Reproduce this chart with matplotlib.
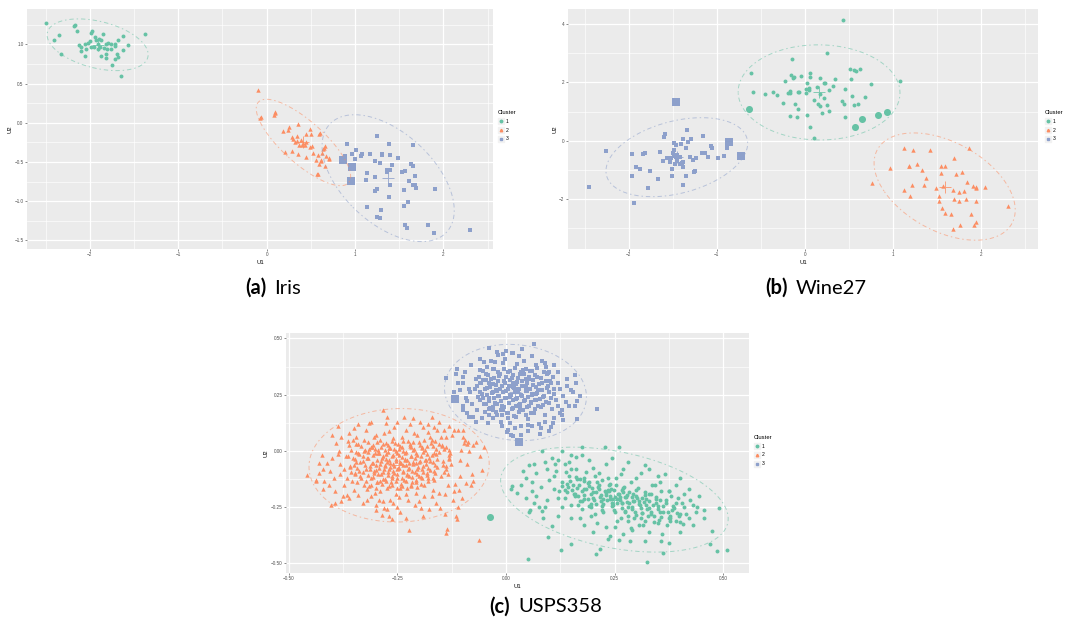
import numpy as np
import matplotlib.pyplot as plt
from matplotlib.lines import Line2D
from matplotlib.legend_handler import HandlerTuple

plt.rcParams['font.family'] = ['Liberation Sans', 'DejaVu Sans']

COLORS = {1: '#66C2A5', 2: '#FC8D62', 3: '#8DA0CB'}
MARKERS = {1: 'o', 2: '^', 3: 's'}
SIZES = {1: 8, 2: 10, 3: 8}
MINUS = '\u2212'

# ---------------- Iris ----------------
iris_c1 = [(-2.49, 1.27), (-2.18, 1.23), (-2.17, 1.25), (-2.15, 1.17), (-2.35, 1.12), (-2.41, 1.05),
           (-2.32, 0.87), (-1.99, 1.14), (-1.98, 1.17), (-1.85, 1.13), (-1.37, 1.13), (-1.62, 1.10),
           (-1.68, 1.06), (-1.57, 0.99), (-1.62, 0.93), (-1.65, 0.59), (-1.75, 0.74), (-1.71, 0.81),
           (-1.69, 0.88), (-1.68, 0.84), (-1.76, 0.94), (-1.72, 0.98), (-1.72, 1.01), (-1.76, 1.01),
           (-1.82, 1.00), (-1.81, 0.94), (-1.82, 0.88), (-1.82, 0.83), (-1.87, 0.85), (-1.87, 1.05),
           (-1.90, 1.07), (-1.93, 1.05), (-1.91, 1.01), (-1.95, 0.96), (-1.91, 0.94), (-1.99, 0.97),
           (-2.02, 1.02), (-2.00, 1.04), (-2.05, 1.00), (-2.04, 0.94), (-2.05, 0.85), (-2.10, 0.92),
           (-2.12, 0.99), (-2.10, 0.97), (-1.89, 0.96), (-1.84, 0.95), (-1.94, 1.09), (-1.79, 1.02)]
iris_c2 = [(-0.10, 0.42), (-0.06, 0.07), (-0.07, 0.06), (0.09, 0.14), (0.10, 0.12), (0.08, 0.10),
           (0.18, -0.11), (0.24, -0.09), (0.25, -0.06), (0.35, -0.01), (0.29, -0.18), (0.30, -0.21),
           (0.34, -0.17), (0.32, -0.24), (0.34, -0.23), (0.37, -0.28), (0.39, -0.22), (0.40, -0.29),
           (0.43, -0.29), (0.41, -0.26), (0.44, -0.25), (0.45, -0.14), (0.49, -0.08), (0.50, -0.14),
           (0.60, -0.13), (0.59, -0.14), (0.49, -0.31), (0.51, -0.30), (0.21, -0.37), (0.29, -0.36),
           (0.36, -0.40), (0.44, -0.44), (0.53, -0.39), (0.58, -0.41), (0.64, -0.33), (0.65, -0.32),
           (0.63, -0.38), (0.66, -0.30), (0.67, -0.43), (0.70, -0.45), (0.71, -0.46), (0.56, -0.48),
           (0.61, -0.49), (0.62, -0.48), (0.59, -0.52), (0.66, -0.55), (0.57, -0.66), (0.58, -0.65)]
iris_c3 = [(1.25, -0.17), (0.91, -0.27), (1.01, -0.35), (1.38, -0.27), (1.66, -0.28), (0.97, -0.40),
           (0.89, -0.43), (1.08, -0.40), (1.07, -0.42), (1.17, -0.40), (1.30, -0.40), (1.31, -0.41),
           (1.40, -0.41), (1.48, -0.45), (1.00, -0.46), (0.86, -0.48), (1.22, -0.49), (1.28, -0.51),
           (1.42, -0.54), (1.63, -0.53), (1.66, -0.55), (0.97, -0.57), (1.36, -0.60), (1.39, -0.60),
           (1.36, -0.63), (1.53, -0.63), (1.57, -0.62), (1.14, -0.64), (1.68, -0.68), (1.22, -0.69),
           (1.12, -0.73), (0.95, -0.74), (1.61, -0.74), (1.39, -0.79), (1.65, -0.79), (1.68, -0.79),
           (1.69, -0.83), (1.25, -0.85), (1.22, -0.87), (1.55, -0.86), (1.90, -0.85), (1.38, -0.95),
           (1.60, -1.01), (1.13, -1.08), (1.55, -1.06), (1.29, -1.11), (1.25, -1.20), (1.28, -1.22),
           (1.57, -1.30), (1.59, -1.34), (1.83, -1.30), (1.89, -1.41), (2.30, -1.37)]
iris_big = [(0.86, -0.48, 3), (0.97, -0.57, 3), (0.95, -0.74, 3)]

# ---------------- Wine27 ----------------
wine_c1 = [(-0.61, 2.31), (-0.59, 1.66), (-0.63, 1.08), (-0.45, 1.61), (-0.36, 1.68), (-0.32, 1.58),
           (-0.25, 1.30), (-0.22, 2.06), (-0.17, 1.63), (-0.19, 1.63), (-0.17, 1.70), (-0.16, 2.26),
           (-0.15, 2.80), (-0.13, 2.16), (-0.12, 2.19), (-0.11, 1.27), (-0.17, 0.85), (-0.09, 0.83),
           (-0.08, 1.66), (-0.06, 1.66), (-0.08, 1.10), (0.44, 4.14), (0.25, 3.01), (-0.04, 2.23),
           (0.06, 2.32), (0.06, 2.19), (0.02, 1.98), (0.01, 1.79), (0.01, 1.63), (0.05, 1.82),
           (0.05, 1.75), (0.14, 1.83), (0.17, 2.15), (0.22, 1.97), (0.23, 1.99), (0.28, 1.75),
           (0.32, 1.88), (0.34, 2.13), (0.17, 1.61), (0.22, 1.47), (0.11, 1.40), (0.15, 1.25),
           (0.17, 1.18), (0.25, 1.24), (0.28, 1.03), (0.20, 0.94), (0.03, 0.90), (0.06, 0.49),
           (0.11, 0.10), (0.42, 1.37), (0.45, 1.27), (0.46, 1.77), (0.46, 0.81), (0.51, 2.45),
           (0.56, 2.42), (0.58, 2.38), (0.63, 2.47), (0.53, 2.13), (0.54, 1.54), (0.56, 1.22),
           (0.60, 1.25), (0.57, 0.47), (0.65, 0.75), (0.69, 1.50), (0.75, 1.95), (0.83, 0.89),
           (0.94, 1.00), (1.08, 2.05)]
wine_c2 = [(1.13, -0.23), (1.23, -0.32), (1.42, -0.30), (1.87, -0.25), (0.97, -0.92), (0.76, -1.43),
           (1.18, -0.85), (1.19, -0.87), (1.28, -0.80), (1.33, -1.01), (1.38, -1.27), (1.36, -1.51),
           (1.22, -1.50), (1.13, -1.67), (1.20, -1.88), (1.55, -0.88), (1.59, -0.88), (1.55, -1.09),
           (1.69, -0.60), (1.72, -1.13), (1.79, -1.08), (1.84, -1.42), (1.91, -1.55), (1.94, -1.57),
           (1.94, -1.61), (2.05, -1.57), (1.49, -1.61), (1.52, -1.89), (1.53, -2.07), (1.56, -2.32),
           (1.59, -2.47), (1.66, -2.50), (1.68, -1.67), (1.69, -1.99), (1.75, -1.74), (1.75, -2.07),
           (1.81, -1.72), (1.83, -1.98), (1.95, -2.07), (1.89, -2.50), (1.95, -2.77), (1.92, -2.89),
           (1.76, -2.89), (1.68, -3.04), (2.31, -2.24), (1.57, -1.55)]
wine_c3 = [(-2.45, -1.58), (-2.26, -0.35), (-1.96, -0.45), (-1.96, -1.20), (-1.94, -2.13), (-1.92, -0.90),
           (-1.87, -0.97), (-1.84, -0.45), (-1.82, -0.42), (-1.78, -1.61), (-1.76, -1.03), (-1.67, -1.31),
           (-1.65, -0.39), (-1.61, -0.69), (-1.60, 0.14), (-1.59, 0.23), (-1.56, -0.59), (-1.53, -0.73),
           (-1.52, -0.59), (-1.51, -0.97), (-1.51, -1.20), (-1.50, -0.42), (-1.49, -0.08), (-1.48, -0.32),
           (-1.48, -0.48), (-1.46, -0.55), (-1.45, -0.50), (-1.47, -0.52), (-1.46, -0.15), (-1.45, -0.69),
           (-1.47, -0.80), (-1.46, 1.32), (-1.42, -0.56), (-1.41, -0.11), (-1.42, -0.80), (-1.40, -0.77),
           (-1.38, -0.73), (-1.38, -0.91), (-1.38, 0.06), (-1.38, -1.51), (-1.35, -0.25), (-1.35, -1.20),
           (-1.34, 0.37), (-1.33, -0.03), (-1.30, -0.56), (-1.29, 0.06), (-1.27, -0.66), (-1.26, -1.07),
           (-1.25, -1.03), (-1.24, -0.59), (-1.17, -0.42), (-1.16, 0.16), (-1.13, -0.42), (-1.10, -0.56),
           (-1.06, -0.18), (-1.05, -0.25), (-0.99, -0.59), (-0.92, -0.52), (-0.88, -0.25), (-0.86, -0.04),
           (-0.72, -0.52)]
wine_big = [(-0.63, 1.08, 1), (0.57, 0.47, 1), (0.65, 0.75, 1), (0.83, 0.89, 1), (0.94, 1.00, 1),
            (-1.46, 1.32, 3), (-0.86, -0.04, 3), (-0.72, -0.52, 3)]

# ---------------- USPS358 ----------------
usps_c1 = [(0.083, 0.001), (0.174, 0.016), (0.227, 0.016), (0.260, 0.016), (0.128, 0.001), (0.160, -0.028),
           (0.053, -0.062), (0.013, -0.158), (0.011, -0.170), (0.025, -0.187), (0.046, -0.209), (0.065, -0.231),
           (0.052, -0.273), (0.056, -0.262), (0.082, -0.268), (0.105, -0.335), (0.097, -0.382), (0.050, -0.482),
           (0.126, -0.441), (0.149, -0.416), (0.208, -0.457), (0.216, -0.435), (0.235, -0.391), (0.261, -0.397),
           (0.286, -0.401), (0.325, -0.493), (0.357, -0.401), (0.361, -0.456), (0.375, -0.408), (0.407, -0.327),
           (0.384, -0.246), (0.405, -0.231), (0.424, -0.220), (0.438, -0.273), (0.456, -0.261), (0.491, -0.255),
           (0.474, -0.355), (0.469, -0.416), (0.486, -0.446), (0.509, -0.441), (0.397, -0.291), (0.375, -0.177),
           (0.365, -0.102), (0.319, -0.062), (0.342, -0.150), (0.288, -0.342), (-0.037, -0.295),
           (0.100, -0.130), (0.110, -0.170), (0.115, -0.090), (0.120, -0.210), (0.128, -0.140), (0.135, -0.060),
           (0.140, -0.185), (0.145, -0.110), (0.150, -0.240), (0.155, -0.150), (0.160, -0.080), (0.165, -0.200),
           (0.170, -0.125), (0.175, -0.260), (0.180, -0.170), (0.184, -0.095), (0.188, -0.215), (0.192, -0.140),
           (0.196, -0.290), (0.200, -0.185), (0.204, -0.110), (0.208, -0.235), (0.212, -0.160), (0.216, -0.205),
           (0.220, -0.130), (0.224, -0.270), (0.228, -0.180), (0.232, -0.220), (0.236, -0.150), (0.240, -0.200),
           (0.244, -0.245), (0.248, -0.175), (0.252, -0.120), (0.256, -0.215), (0.260, -0.190), (0.264, -0.300),
           (0.268, -0.230), (0.272, -0.160), (0.276, -0.205), (0.280, -0.250), (0.284, -0.185), (0.288, -0.140),
           (0.292, -0.225), (0.296, -0.270), (0.300, -0.200), (0.304, -0.165), (0.308, -0.240), (0.312, -0.210),
           (0.316, -0.330), (0.320, -0.185), (0.325, -0.260), (0.330, -0.225), (0.335, -0.150), (0.340, -0.290),
           (0.345, -0.205), (0.350, -0.245), (0.356, -0.180), (0.362, -0.270), (0.368, -0.220), (0.374, -0.300),
           (0.380, -0.200), (0.386, -0.255), (0.392, -0.230), (0.400, -0.280), (0.410, -0.250), (0.420, -0.300),
           (0.070, -0.100), (0.080, -0.160), (0.090, -0.050), (0.060, -0.140), (0.095, -0.220), (0.105, -0.030),
           (0.130, -0.250), (0.150, -0.020), (0.170, -0.300), (0.190, -0.040), (0.210, -0.320), (0.230, -0.060),
           (0.250, -0.340), (0.270, -0.080), (0.290, -0.350), (0.310, -0.100), (0.330, -0.360), (0.350, -0.110),
           (0.370, -0.330), (0.390, -0.150), (0.410, -0.190), (0.430, -0.240), (0.230, -0.195), (0.245, -0.215),
           (0.262, -0.205), (0.278, -0.228), (0.255, -0.230), (0.238, -0.178), (0.270, -0.185), (0.290, -0.205),
           (0.305, -0.222), (0.322, -0.240), (0.218, -0.225), (0.198, -0.165), (0.180, -0.135), (0.162, -0.115),
           (0.142, -0.160), (0.122, -0.180), (0.112, -0.060), (0.138, -0.095), (0.158, -0.190), (0.176, -0.225),
           (0.196, -0.250), (0.214, -0.100), (0.234, -0.120), (0.254, -0.150), (0.274, -0.270), (0.294, -0.300),
           (0.314, -0.275), (0.334, -0.190), (0.354, -0.220), (0.374, -0.180), (0.396, -0.210), (0.060, -0.180),
           (0.045, -0.120), (0.075, -0.250), (0.085, -0.300), (0.200, -0.360), (0.240, -0.380), (0.280, -0.310),
           (0.320, -0.310),
           (0.130, -0.158), (0.152, -0.173), (0.174, -0.177), (0.196, -0.193), (0.218, -0.197), (0.240, -0.213),
           (0.262, -0.217), (0.284, -0.233), (0.306, -0.237), (0.328, -0.253), (0.350, -0.257), (0.372, -0.272),
           (0.394, -0.276), (0.141, -0.148), (0.163, -0.163), (0.185, -0.168), (0.207, -0.183), (0.229, -0.187),
           (0.251, -0.203), (0.273, -0.207), (0.295, -0.223), (0.317, -0.227), (0.339, -0.242), (0.361, -0.246),
           (0.383, -0.262), (0.135, -0.176), (0.157, -0.191), (0.179, -0.196), (0.201, -0.210), (0.223, -0.215),
           (0.245, -0.230), (0.267, -0.234), (0.289, -0.250), (0.311, -0.254), (0.333, -0.270), (0.355, -0.274),
           (0.377, -0.290), (0.147, -0.136), (0.169, -0.151), (0.191, -0.156), (0.213, -0.171), (0.235, -0.175),
           (0.257, -0.191), (0.279, -0.195), (0.301, -0.211), (0.323, -0.214), (0.345, -0.230), (0.367, -0.234),
           (0.158, -0.200), (0.180, -0.216), (0.202, -0.220), (0.224, -0.236), (0.246, -0.240), (0.268, -0.256),
           (0.290, -0.260), (0.312, -0.275), (0.334, -0.279), (0.356, -0.295), (0.378, -0.299), (0.400, -0.315),
           (0.163, -0.127), (0.189, -0.145), (0.215, -0.151), (0.241, -0.169), (0.267, -0.174), (0.293, -0.192),
           (0.319, -0.198), (0.345, -0.215), (0.170, -0.221), (0.196, -0.238), (0.222, -0.244), (0.248, -0.262),
           (0.274, -0.267), (0.300, -0.285), (0.326, -0.291), (0.352, -0.309), (0.378, -0.314), (0.180, -0.120),
           (0.210, -0.140), (0.240, -0.147), (0.270, -0.167), (0.300, -0.174), (0.330, -0.194), (0.190, -0.245),
           (0.220, -0.264), (0.250, -0.272), (0.280, -0.291), (0.310, -0.299), (0.340, -0.318),
           (0.040, -0.090), (0.065, -0.060), (0.095, -0.080), (0.120, -0.040), (0.145, -0.050), (0.175, -0.020),
           (0.200, -0.075), (0.245, -0.030), (0.280, -0.050), (0.300, -0.120), (0.330, -0.080), (0.355, -0.140),
           (0.400, -0.120), (0.420, -0.170), (0.445, -0.200), (0.455, -0.300), (0.430, -0.330), (0.400, -0.360),
           (0.360, -0.370), (0.320, -0.400), (0.270, -0.370), (0.230, -0.340), (0.180, -0.330), (0.150, -0.300),
           (0.120, -0.290), (0.090, -0.250), (0.070, -0.200), (0.035, -0.150), (0.110, -0.110), (0.135, -0.210),
           (0.165, -0.240), (0.205, -0.280), (0.255, -0.310), (0.305, -0.330), (0.350, -0.320), (0.390, -0.310),
           (0.415, -0.280), (0.440, -0.250), (0.150, -0.080), (0.265, -0.105)]
usps_c2 = [(-0.457, -0.109), (-0.438, -0.131), (-0.436, -0.134), (-0.424, -0.019), (-0.430, -0.054), (-0.419, -0.136),
           (-0.411, -0.055), (-0.407, -0.153), (-0.403, -0.242), (-0.404, -0.091), (-0.394, -0.180), (-0.393, -0.232),
           (-0.392, 0.034), (-0.387, 0.112), (-0.387, -0.014), (-0.384, 0.000), (-0.382, -0.059), (-0.381, -0.105),
           (-0.380, -0.224), (-0.372, -0.153), (-0.369, -0.025), (-0.365, -0.198), (-0.362, -0.210), (-0.363, 0.046),
           (-0.360, 0.027), (-0.357, -0.095), (-0.355, -0.133), (-0.350, 0.100), (-0.349, -0.064), (-0.347, -0.099),
           (-0.345, -0.004), (-0.344, 0.063), (-0.342, -0.140), (-0.341, -0.198), (-0.338, -0.014), (-0.335, -0.111),
           (-0.327, 0.001), (-0.326, -0.150), (-0.323, 0.093), (-0.320, -0.217), (-0.316, 0.122), (-0.315, -0.158),
           (-0.312, -0.069), (-0.310, -0.202), (-0.308, 0.017), (-0.304, 0.063), (-0.303, -0.098), (-0.301, -0.187),
           (-0.300, -0.261), (-0.297, 0.040), (-0.293, -0.217), (-0.291, -0.010), (-0.289, -0.134), (-0.285, -0.286),
           (-0.283, 0.181), (-0.283, -0.224), (-0.281, 0.078), (-0.280, -0.252), (-0.278, -0.069), (-0.275, 0.125),
           (-0.274, 0.152), (-0.274, -0.259), (-0.272, 0.025), (-0.270, -0.158), (-0.268, -0.040), (-0.266, -0.217),
           (-0.263, -0.305), (-0.262, -0.113), (-0.260, 0.056), (-0.257, 0.108), (-0.254, -0.190), (-0.253, -0.002),
           (-0.251, -0.081), (-0.247, -0.205), (-0.246, 0.007), (-0.243, -0.270), (-0.239, -0.158), (-0.235, 0.152),
           (-0.233, -0.040), (-0.231, 0.093), (-0.228, -0.105), (-0.226, -0.217), (-0.224, -0.350), (-0.221, 0.022),
           (-0.218, -0.158), (-0.215, 0.145), (-0.212, 0.078), (-0.208, -0.054), (-0.206, -0.187), (-0.201, -0.113),
           (-0.197, 0.130), (-0.196, -0.254), (-0.193, 0.019), (-0.191, 0.108), (-0.189, -0.202), (-0.185, -0.040),
           (-0.181, -0.098), (-0.178, -0.258), (-0.174, 0.063), (-0.170, 0.149), (-0.168, -0.172), (-0.166, 0.108),
           (-0.165, -0.010), (-0.163, -0.098), (-0.159, 0.093), (-0.155, 0.130), (-0.153, -0.187), (-0.151, -0.254),
           (-0.148, 0.022), (-0.145, -0.064), (-0.143, 0.093), (-0.139, 0.063), (-0.138, -0.364), (-0.136, -0.349),
           (-0.134, -0.102), (-0.132, -0.033), (-0.130, 0.004), (-0.125, 0.071), (-0.121, -0.217), (-0.119, 0.093),
           (-0.117, -0.149), (-0.115, -0.291), (-0.113, -0.305), (-0.110, 0.093), (-0.109, -0.172), (-0.106, -0.040),
           (-0.105, -0.113), (-0.104, 0.004), (-0.101, -0.208), (-0.099, 0.093), (-0.097, 0.034), (-0.094, 0.049),
           (-0.092, -0.143), (-0.089, 0.031), (-0.088, 0.041), (-0.085, -0.002), (-0.079, -0.102), (-0.076, -0.136),
           (-0.075, 0.026), (-0.063, -0.397), (-0.060, -0.022), (-0.055, -0.086), (-0.050, 0.016),
           (-0.330, -0.045), (-0.322, -0.080), (-0.318, -0.030), (-0.314, 0.010), (-0.311, -0.120), (-0.306, -0.055),
           (-0.302, -0.010), (-0.299, -0.085), (-0.296, -0.140), (-0.294, 0.005), (-0.290, -0.060), (-0.287, -0.105),
           (-0.285, -0.030), (-0.283, 0.030), (-0.280, -0.080), (-0.278, -0.125), (-0.276, -0.015), (-0.273, -0.050),
           (-0.271, -0.095), (-0.269, 0.012), (-0.266, -0.070), (-0.264, -0.140), (-0.262, -0.025), (-0.259, -0.060),
           (-0.257, -0.100), (-0.255, 0.035), (-0.253, -0.045), (-0.250, -0.120), (-0.248, -0.075), (-0.246, -0.020),
           (-0.244, -0.165), (-0.242, -0.055), (-0.240, 0.015), (-0.237, -0.090), (-0.235, -0.130), (-0.233, -0.010),
           (-0.231, -0.065), (-0.228, -0.040), (-0.226, 0.045), (-0.224, -0.110), (-0.222, -0.075), (-0.219, -0.025),
           (-0.217, -0.140), (-0.215, -0.050), (-0.212, 0.010), (-0.210, -0.095), (-0.208, -0.130), (-0.205, -0.020),
           (-0.203, -0.070), (-0.200, 0.040), (-0.198, -0.045), (-0.196, -0.115), (-0.193, -0.080), (-0.190, -0.005),
           (-0.188, -0.150), (-0.185, -0.060), (-0.182, 0.020), (-0.180, -0.120), (-0.177, -0.030), (-0.174, -0.085),
           (-0.171, 0.050), (-0.168, -0.050), (-0.165, -0.130), (-0.161, -0.015), (-0.158, -0.070), (-0.154, 0.030),
           (-0.150, -0.110), (-0.146, -0.045), (-0.142, 0.010), (-0.138, -0.080), (-0.134, -0.150), (-0.130, -0.020),
           (-0.126, -0.060), (-0.338, -0.090), (-0.345, -0.050), (-0.352, -0.030), (-0.358, -0.070), (-0.365, -0.120),
           (-0.372, -0.080), (-0.340, 0.030), (-0.326, 0.050), (-0.300, 0.070), (-0.270, 0.090), (-0.240, 0.060),
           (-0.205, 0.070), (-0.180, 0.085), (-0.150, 0.060), (-0.290, -0.180), (-0.260, -0.230), (-0.230, -0.190),
           (-0.200, -0.225), (-0.170, -0.200), (-0.140, -0.190), (-0.320, -0.170), (-0.350, -0.175),
           (-0.352, 0.047), (-0.318, 0.041), (-0.289, 0.049), (-0.262, 0.043), (-0.236, 0.046), (-0.214, 0.040),
           (-0.189, 0.048), (-0.163, 0.044), (-0.344, 0.031), (-0.305, 0.027), (-0.277, 0.034), (-0.249, 0.029),
           (-0.221, 0.032), (-0.197, 0.026), (-0.172, 0.033), (-0.147, 0.028), (-0.333, 0.020), (-0.311, 0.015),
           (-0.287, 0.019), (-0.266, 0.013), (-0.243, 0.021), (-0.218, 0.016), (-0.194, 0.014), (-0.168, 0.020),
           (-0.139, 0.017), (-0.356, 0.006), (-0.325, 0.002), (-0.301, 0.008), (-0.279, 0.003), (-0.257, 0.007),
           (-0.236, 0.001), (-0.213, 0.006), (-0.187, 0.002), (-0.160, 0.008), (-0.341, -0.009), (-0.317, -0.005),
           (-0.295, -0.011), (-0.272, -0.006), (-0.251, -0.010), (-0.229, -0.004), (-0.207, -0.009), (-0.182, -0.012),
           (-0.153, -0.006), (-0.128, -0.010), (-0.363, -0.021), (-0.329, -0.025), (-0.306, -0.019), (-0.284, -0.024),
           (-0.261, -0.020), (-0.239, -0.026), (-0.218, -0.021), (-0.196, -0.023), (-0.170, -0.018), (-0.347, -0.037),
           (-0.320, -0.033), (-0.297, -0.039), (-0.275, -0.034), (-0.254, -0.038), (-0.232, -0.035), (-0.210, -0.031),
           (-0.186, -0.039), (-0.158, -0.034), (-0.132, -0.038), (-0.336, -0.049), (-0.309, -0.053), (-0.287, -0.047),
           (-0.266, -0.052), (-0.244, -0.048), (-0.223, -0.054), (-0.201, -0.050), (-0.175, -0.046), (-0.358, -0.066),
           (-0.324, -0.061), (-0.300, -0.065), (-0.279, -0.062), (-0.258, -0.067), (-0.236, -0.063), (-0.214, -0.060),
           (-0.190, -0.066), (-0.163, -0.062), (-0.139, -0.067), (-0.342, -0.077), (-0.313, -0.081), (-0.291, -0.076),
           (-0.269, -0.080), (-0.247, -0.075), (-0.226, -0.079), (-0.204, -0.082), (-0.179, -0.076), (-0.329, -0.094),
           (-0.304, -0.090), (-0.282, -0.095), (-0.260, -0.089), (-0.238, -0.093), (-0.216, -0.091), (-0.192, -0.096),
           (-0.166, -0.090), (-0.142, -0.094), (-0.348, -0.104), (-0.317, -0.108), (-0.294, -0.103), (-0.272, -0.107),
           (-0.250, -0.105), (-0.228, -0.109), (-0.205, -0.103), (-0.181, -0.108), (-0.333, -0.121), (-0.307, -0.118),
           (-0.284, -0.123), (-0.262, -0.119), (-0.240, -0.122), (-0.217, -0.117), (-0.193, -0.121), (-0.168, -0.119),
           (-0.322, -0.134), (-0.297, -0.137), (-0.275, -0.132), (-0.252, -0.136), (-0.229, -0.133), (-0.206, -0.138),
           (-0.180, -0.134), (-0.310, -0.151), (-0.286, -0.148), (-0.263, -0.152), (-0.241, -0.149), (-0.219, -0.153),
           (-0.195, -0.147), (-0.298, -0.164), (-0.274, -0.167), (-0.251, -0.163), (-0.228, -0.166), (-0.205, -0.162),
           (-0.420, -0.080), (-0.400, -0.030), (-0.395, -0.120), (-0.380, 0.060), (-0.375, -0.200), (-0.360, 0.080),
           (-0.340, 0.120), (-0.330, -0.230), (-0.310, 0.130), (-0.300, -0.240), (-0.250, 0.130), (-0.250, -0.250),
           (-0.220, 0.120), (-0.210, -0.240), (-0.180, 0.120), (-0.160, -0.230), (-0.130, 0.110), (-0.120, -0.180),
           (-0.100, 0.060), (-0.090, -0.060), (-0.080, -0.150), (-0.070, 0.040), (-0.110, -0.250), (-0.140, -0.280),
           (-0.190, -0.290), (-0.230, -0.300), (-0.270, -0.290), (-0.400, 0.070), (-0.420, -0.170), (-0.430, -0.100)]
usps_c3 = [(-0.038, 0.459), (-0.138, 0.326), (-0.113, 0.366), (-0.117, 0.230), (-0.098, 0.300), (-0.099, 0.181),
           (-0.090, 0.167), (-0.084, 0.149), (-0.075, 0.152), (-0.067, 0.181), (-0.060, 0.226), (-0.071, 0.277),
           (-0.082, 0.260), (-0.055, 0.145), (-0.052, 0.314), (-0.044, 0.373), (-0.041, 0.122), (-0.025, 0.395),
           (-0.019, 0.425), (-0.008, 0.429), (0.003, 0.085), (0.011, 0.071), (0.031, 0.041), (0.015, 0.437),
           (0.025, 0.388), (-0.031, 0.181), (0.065, 0.473), (0.037, 0.451), (0.013, 0.435), (0.082, 0.400),
           (0.093, 0.373), (0.097, 0.346), (0.109, 0.329), (0.120, 0.300), (0.124, 0.273), (0.132, 0.243),
           (0.139, 0.218), (0.158, 0.336), (0.155, 0.262), (0.164, 0.220), (0.159, 0.199), (0.209, 0.184),
           (0.164, 0.140), (0.124, 0.167), (0.132, 0.137), (0.109, 0.122), (0.103, 0.105), (0.078, 0.075),
           (0.051, 0.088), (0.034, 0.069), (0.017, 0.066), (0.005, 0.093),
           (-0.060, 0.300), (-0.055, 0.255), (-0.050, 0.210), (-0.047, 0.340), (-0.043, 0.280), (-0.040, 0.235),
           (-0.037, 0.190), (-0.034, 0.320), (-0.031, 0.260), (-0.028, 0.365), (-0.026, 0.215), (-0.023, 0.295),
           (-0.020, 0.160), (-0.018, 0.245), (-0.015, 0.335), (-0.013, 0.275), (-0.010, 0.200), (-0.008, 0.390),
           (-0.005, 0.310), (-0.003, 0.235), (0.000, 0.265), (0.002, 0.170), (0.004, 0.350), (0.006, 0.290),
           (0.008, 0.215), (0.010, 0.125), (0.012, 0.250), (0.014, 0.325), (0.016, 0.190), (0.018, 0.280),
           (0.020, 0.370), (0.022, 0.230), (0.024, 0.150), (0.026, 0.305), (0.028, 0.260), (0.030, 0.205),
           (0.032, 0.340), (0.034, 0.110), (0.036, 0.245), (0.038, 0.290), (0.040, 0.180), (0.042, 0.400),
           (0.044, 0.225), (0.046, 0.320), (0.048, 0.265), (0.050, 0.140), (0.053, 0.200), (0.056, 0.355),
           (0.059, 0.250), (0.062, 0.295), (0.065, 0.170), (0.068, 0.225), (0.071, 0.330), (0.074, 0.270),
           (0.077, 0.120), (0.080, 0.195), (0.083, 0.300), (0.086, 0.240), (0.090, 0.160), (0.094, 0.280),
           (0.098, 0.215), (0.102, 0.310), (0.106, 0.185), (0.110, 0.255), (0.115, 0.225), (0.120, 0.200),
           (-0.065, 0.240), (-0.070, 0.320), (-0.078, 0.210), (-0.085, 0.275), (-0.092, 0.235), (-0.100, 0.330),
           (-0.105, 0.270), (-0.048, 0.175), (-0.030, 0.145), (-0.012, 0.130), (0.005, 0.145), (0.060, 0.110),
           (0.090, 0.130), (0.130, 0.180), (0.140, 0.290), (0.100, 0.350), (0.070, 0.380), (0.040, 0.360),
           (-0.002, 0.410), (-0.035, 0.400), (-0.060, 0.360), (0.025, 0.275), (0.009, 0.240), (-0.021, 0.268),
           (0.045, 0.285), (0.058, 0.218), (-0.040, 0.300), (0.032, 0.190), (0.068, 0.255), (-0.008, 0.180),
           (0.015, 0.300), (0.052, 0.320),
           (-0.030, 0.366), (-0.004, 0.362), (0.021, 0.368), (0.047, 0.363), (0.072, 0.367), (-0.052, 0.353),
           (-0.019, 0.350), (0.009, 0.355), (0.034, 0.351), (0.060, 0.354), (0.088, 0.349), (-0.041, 0.338),
           (-0.013, 0.341), (0.015, 0.337), (0.041, 0.340), (0.067, 0.336), (0.094, 0.342), (-0.062, 0.327),
           (-0.028, 0.324), (0.001, 0.328), (0.027, 0.323), (0.054, 0.327), (0.080, 0.325), (0.108, 0.329),
           (-0.047, 0.314), (-0.018, 0.311), (0.010, 0.315), (0.036, 0.312), (0.063, 0.316), (0.091, 0.310),
           (-0.057, 0.301), (-0.030, 0.298), (-0.003, 0.302), (0.023, 0.299), (0.049, 0.303), (0.075, 0.297),
           (0.103, 0.301), (-0.066, 0.288), (-0.037, 0.285), (-0.010, 0.289), (0.016, 0.286), (0.042, 0.290),
           (0.068, 0.284), (0.096, 0.288), (-0.049, 0.275), (-0.022, 0.272), (0.004, 0.276), (0.030, 0.273),
           (0.056, 0.277), (0.083, 0.271), (0.110, 0.275), (-0.060, 0.262), (-0.033, 0.259), (-0.006, 0.263),
           (0.020, 0.260), (0.046, 0.264), (0.072, 0.258), (0.099, 0.262), (-0.044, 0.249), (-0.017, 0.246),
           (0.009, 0.250), (0.035, 0.247), (0.061, 0.251), (0.088, 0.245), (-0.054, 0.236), (-0.027, 0.233),
           (-0.001, 0.237), (0.025, 0.234), (0.051, 0.238), (0.078, 0.232), (0.104, 0.236), (-0.038, 0.223),
           (-0.011, 0.220), (0.015, 0.224), (0.041, 0.221), (0.067, 0.225), (0.093, 0.219), (-0.047, 0.210),
           (-0.020, 0.207), (0.006, 0.211), (0.032, 0.208), (0.058, 0.212), (0.085, 0.206), (-0.031, 0.197),
           (-0.004, 0.194), (0.022, 0.198), (0.048, 0.195), (0.074, 0.199), (-0.039, 0.184), (-0.012, 0.181),
           (0.014, 0.185), (0.040, 0.182), (0.066, 0.186), (-0.022, 0.171), (0.005, 0.168), (0.031, 0.172),
           (0.057, 0.169), (-0.010, 0.158), (0.018, 0.155), (0.045, 0.159),
           (-0.110, 0.300), (-0.120, 0.260), (-0.100, 0.200), (-0.080, 0.380), (-0.060, 0.410), (-0.020, 0.440),
           (0.030, 0.420), (0.060, 0.420), (0.090, 0.390), (0.120, 0.350), (0.140, 0.320), (0.150, 0.270),
           (0.145, 0.200), (0.130, 0.160), (0.110, 0.145), (0.080, 0.100), (0.050, 0.115), (0.020, 0.100),
           (-0.010, 0.110), (-0.040, 0.160), (-0.070, 0.130), (-0.090, 0.220), (-0.115, 0.340), (0.160, 0.300),
           (0.170, 0.245), (0.100, 0.090), (-0.050, 0.395), (0.000, 0.445), (0.110, 0.380), (-0.095, 0.350)]
usps_big = [(-0.037, -0.295, 1), (0.031, 0.041, 3), (-0.117, 0.230, 3)]

LEVEL = 0.95


def ell_radius(n):
    # sqrt(2 * F_{0.95}(2, n-1)), closed form for 2 numerator df
    d = n - 1
    qf = (d / 2.0) * ((1 - LEVEL) ** (-2.0 / d) - 1)
    return np.sqrt(2 * qf)


def fmt(v, nd):
    s = f'{abs(v):.{nd}f}'
    return (MINUS + s) if v < 0 else s


def draw_panel(ax, clusters, big, xlim, ylim, xticks, yticks, nd, xminor, yminor):
    ax.set_facecolor('#EBEBEB')
    for s in ax.spines.values():
        s.set_visible(False)
    ax.set_xlim(xlim)
    ax.set_ylim(ylim)
    ax.set_xticks(xticks)
    ax.set_xticklabels([fmt(v, nd[0]) for v in xticks])
    ax.set_yticks(yticks)
    ax.set_yticklabels([fmt(v, nd[1]) for v in yticks])
    ax.set_xticks(xminor, minor=True)
    ax.set_yticks(yminor, minor=True)
    ax.grid(which='major', color='white', lw=0.9)
    ax.grid(which='minor', color='white', lw=0.45)
    ax.set_axisbelow(True)
    ax.tick_params(which='minor', length=0)
    ax.tick_params(which='major', length=1.5, width=0.4, color='#333333',
                   labelsize=3.3, labelcolor='#4D4D4D', pad=1)
    ax.set_xlabel('U1', fontsize=4.2, labelpad=1.5)
    ax.set_ylabel('U2', fontsize=4.2, labelpad=1.5)

    t = np.linspace(0, 2 * np.pi, 300)
    circ = np.vstack([np.cos(t), np.sin(t)])
    for k, pts in clusters.items():
        pts = np.asarray(pts)
        ax.scatter(pts[:, 0], pts[:, 1], s=SIZES[k], marker=MARKERS[k],
                   color=COLORS[k], lw=0, zorder=3)
    for x, y, k in big:
        ax.scatter([x], [y], s=SIZES[k] * 3.2, marker=MARKERS[k],
                   color=COLORS[k], lw=0, zorder=3)
    for k, pts in clusters.items():
        pts = np.asarray(pts, dtype=float)
        m = pts.mean(axis=0)
        vals, vecs = np.linalg.eigh(np.cov(pts.T))
        ell = m[:, None] + vecs @ (np.sqrt(vals)[:, None] * ell_radius(len(pts)) * circ)
        ax.plot(ell[0], ell[1], color=COLORS[k], alpha=0.55, lw=0.7,
                ls=(0, (1.5, 3, 4.5, 3)), zorder=4)
        ax.plot(m[0], m[1], marker='+', ms=8, mew=0.7, color=COLORS[k],
                alpha=0.8, zorder=5)


def add_legend(fig, x, y):
    handles = []
    for k in (1, 2, 3):
        bg = Line2D([], [], ls='', marker='s', ms=5, color='#F2F2F2')
        fg = Line2D([], [], ls='', marker=MARKERS[k], ms=1.8, color=COLORS[k])
        handles.append((bg, fg))
    fig.legend(handles, ['1', '2', '3'], title='Cluster', loc='upper left',
               bbox_to_anchor=(x, y), frameon=False, fontsize=3.6,
               title_fontsize=4.2, alignment='left', borderpad=0,
               borderaxespad=0, handlelength=1.0, handletextpad=0.6,
               labelspacing=0.75, handler_map={tuple: HandlerTuple(ndivide=1)})


W, H = 1065, 626
fig = plt.figure(figsize=(W / 100, H / 100), dpi=100)


def px_axes(left, top, right, bottom):
    return fig.add_axes([left / W, 1 - bottom / H, (right - left) / W, (bottom - top) / H])


ax1 = px_axes(27, 9, 493, 249)
draw_panel(ax1, {1: iris_c1, 2: iris_c2, 3: iris_c3}, iris_big,
           (-2.71, 2.56), (-1.61, 1.45),
           [-2, -1, 0, 1, 2], [-1.5, -1.0, -0.5, 0.0, 0.5, 1.0], (0, 1),
           [-2.5, -1.5, -0.5, 0.5, 1.5, 2.5], [-1.25, -0.75, -0.25, 0.25, 0.75, 1.25])
add_legend(fig, 498 / W, 1 - 110 / H)

ax2 = px_axes(568, 9, 1038, 249)
draw_panel(ax2, {1: wine_c1, 2: wine_c2, 3: wine_c3}, wine_big,
           (-2.69, 2.65), (-3.71, 4.52),
           [-2, -1, 0, 1, 2], [-2, 0, 2, 4], (0, 0),
           [-2.5, -1.5, -0.5, 0.5, 1.5, 2.5], [-3, -1, 1, 3])
add_legend(fig, 1045 / W, 1 - 110 / H)

ax3 = px_axes(286, 333, 749, 573)
draw_panel(ax3, {1: usps_c1, 2: usps_c2, 3: usps_c3}, usps_big,
           (-0.506, 0.559), (-0.543, 0.524),
           [-0.5, -0.25, 0, 0.25, 0.5], [-0.5, -0.25, 0, 0.25, 0.5], (2, 2),
           [-0.375, -0.125, 0.125, 0.375], [-0.375, -0.125, 0.125, 0.375])
add_legend(fig, 754 / W, 1 - 435 / H)

# captions
cap = dict(fontsize=14.5, family=['Lato', 'DejaVu Sans'], va='center')
fig.text(266 / W, 1 - 288 / H, '(a)', ha='right', weight='bold', **cap)
fig.text(274 / W, 1 - 288 / H, 'Iris', ha='left', **cap)
fig.text(788 / W, 1 - 288 / H, '(b)', ha='right', weight='bold', **cap)
fig.text(796 / W, 1 - 288 / H, 'Wine27', ha='left', **cap)
fig.text(510 / W, 1 - 607 / H, '(c)', ha='right', weight='bold', **cap)
fig.text(518 / W, 1 - 607 / H, 'USPS358', ha='left', **cap)

fig.savefig('out.png', dpi=100)
